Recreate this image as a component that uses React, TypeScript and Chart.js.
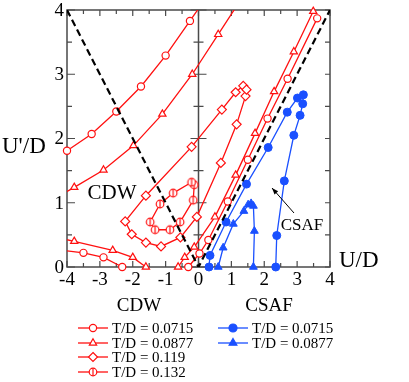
import React, { useEffect, useRef } from 'react';
import { Chart, registerables } from 'chart.js';

Chart.register(...registerables);

// ---------- data ----------
const xTickValues = [-4, -3, -2, -1, 0, 1, 2, 3, 4];
const yTickValues = [0, 1, 2, 3, 4];

const boundaryX = [-4, 0, 4];
const boundaryY = [4, 0, 4];

// CDW, T/D = 0.0715 (circles)
const cdw0715UpperX = [-4.0, -3.25, -2.5, -1.75, -1.0, -0.26, 0.3];
const cdw0715UpperY = [1.81, 2.07, 2.42, 2.81, 3.29, 3.83, 4.24];
const cdw0715LowerX = [-4.5, -3.5, -2.89, -2.32];
const cdw0715LowerY = [0.28, 0.22, 0.15, 0.0];
const cdw0715RightX = [-0.31, 0.03, 0.3, 0.89, 1.5, 2.1, 2.71, 3.61];
const cdw0715RightY = [0.0, 0.21, 0.42, 1.02, 1.67, 2.31, 2.93, 3.87];

// CDW, T/D = 0.0877 (triangles)
const cdw0877UpperX = [-4.5, -3.78, -2.89, -1.98, -1.1, -0.19, 0.6, 1.5];
const cdw0877UpperY = [1.03, 1.24, 1.51, 1.89, 2.38, 3.0, 3.62, 4.33];
const cdw0877LowerX = [-4.5, -3.78, -2.61, -2.0, -1.6];
const cdw0877LowerY = [0.48, 0.4, 0.26, 0.15, 0.0];
const cdw0877RightX = [-0.62, -0.42, -0.13, 0.5, 1.13, 1.72, 2.3, 2.9, 3.49];
const cdw0877RightY = [0.0, 0.15, 0.31, 0.78, 1.43, 2.08, 2.73, 3.35, 3.98];

// CDW, T/D = 0.119 (diamonds)
const cdw119X = [1.36, 1.13, 0.71, -0.21, -1.6, -2.23, -2.03, -1.6, -1.14, -0.55, -0.05, 0.68, 1.16, 1.43, 1.46];
const cdw119Y = [2.82, 2.72, 2.45, 1.87, 1.11, 0.71, 0.51, 0.38, 0.32, 0.46, 0.78, 1.62, 2.22, 2.66, 2.76];

// CDW, T/D = 0.132 (half circles)
const cdw132X = [-0.13, -0.16, -0.56, -0.87, -1.32, -1.47, -1.17, -0.77, -0.21];
const cdw132Y = [1.28, 1.04, 0.7, 0.58, 0.58, 0.7, 0.98, 1.15, 1.32];

// CSAF, T/D = 0.0715 (filled circles)
const csaf0715X = [0.32, 0.35, 0.84, 1.46, 2.12, 2.7, 3.01, 3.19, 3.17, 3.09, 2.9, 2.61, 2.38, 2.35];
const csaf0715Y = [0.0, 0.18, 0.7, 1.29, 1.86, 2.41, 2.63, 2.68, 2.54, 2.36, 2.05, 1.34, 0.49, 0.0];

// CSAF, T/D = 0.0877 (filled triangles)
const csaf0877X = [0.6, 0.75, 1.06, 1.38, 1.51, 1.6, 1.67, 1.7, 1.67];
const csaf0877Y = [0.0, 0.3, 0.67, 0.87, 0.97, 0.99, 0.95, 0.56, 0.0];

const cdwLegend = ['T/D = 0.0715', 'T/D = 0.0877', 'T/D = 0.119', 'T/D = 0.132'];
const csafLegend = ['T/D = 0.0715', 'T/D = 0.0877'];

// ---------- style ----------
const RED = '#ff1010';
const BLUE = '#1a50ff';
const FRAME = '#4a4a4a';
const SERIF = '"Liberation Serif", "DejaVu Serif", serif';
const LW = 1.3;

const zip = (xs: number[], ys: number[]) => xs.map((x, i) => ({ x, y: ys[i] }));

function makeHalfCircle(color: string, r: number) {
  const size = Math.ceil(r * 2 + 4);
  const c = document.createElement('canvas');
  c.width = size;
  c.height = size;
  const g = c.getContext('2d')!;
  const cx = size / 2, cy = size / 2;
  g.beginPath();
  g.arc(cx, cy, r, 0, Math.PI * 2);
  g.fillStyle = '#fff';
  g.fill();
  g.lineWidth = 1.2;
  g.strokeStyle = color;
  g.stroke();
  g.beginPath();
  g.moveTo(cx, cy - r);
  g.lineTo(cx, cy + r);
  g.stroke();
  return c;
}

function drawMarker(ctx: CanvasRenderingContext2D, style: string, x: number, y: number, r: number, fill: string, stroke: string) {
  ctx.save();
  ctx.beginPath();
  if (style === 'circle' || style === 'half') {
    ctx.arc(x, y, r, 0, Math.PI * 2);
  } else if (style === 'triangle') {
    for (let i = 0; i < 3; i++) {
      const a = -Math.PI / 2 + (i * 2 * Math.PI) / 3;
      const px = x + Math.cos(a) * r, py = y + Math.sin(a) * r;
      if (i === 0) ctx.moveTo(px, py); else ctx.lineTo(px, py);
    }
    ctx.closePath();
  } else if (style === 'rectRot') {
    ctx.moveTo(x, y - r);
    ctx.lineTo(x + r, y);
    ctx.lineTo(x, y + r);
    ctx.lineTo(x - r, y);
    ctx.closePath();
  }
  ctx.fillStyle = fill;
  ctx.fill();
  ctx.lineWidth = 1.2;
  ctx.strokeStyle = stroke;
  ctx.stroke();
  if (style === 'half') {
    ctx.beginPath();
    ctx.moveTo(x, y - r);
    ctx.lineTo(x, y + r);
    ctx.stroke();
  }
  ctx.restore();
}

const decorPlugin = {
  id: 'decor',
  beforeDatasetsDraw(chart: any) {
    const { ctx, chartArea: a, scales } = chart;
    const xs = scales.x, ys = scales.y;
    ctx.save();
    ctx.strokeStyle = FRAME;
    ctx.lineWidth = 1.5;
    ctx.strokeRect(a.left, a.top, a.right - a.left, a.bottom - a.top);
    const x0 = xs.getPixelForValue(0);
    ctx.beginPath();
    ctx.moveTo(x0, a.top);
    ctx.lineTo(x0, a.bottom);
    ctx.stroke();
    ctx.lineWidth = 1.2;
    // x ticks (top & bottom)
    for (let v = -4; v <= 4.001; v += 0.5) {
      const px = xs.getPixelForValue(v);
      const len = Number.isInteger(v) ? 6 : 4;
      ctx.beginPath();
      ctx.moveTo(px, a.bottom);
      ctx.lineTo(px, a.bottom - len);
      ctx.moveTo(px, a.top);
      ctx.lineTo(px, a.top + len);
      ctx.stroke();
    }
    // y ticks (left, right, middle)
    for (let v = 0; v <= 4.001; v += 0.5) {
      const py = ys.getPixelForValue(v);
      const len = Number.isInteger(v) ? 8 : 5;
      ctx.beginPath();
      ctx.moveTo(a.left, py);
      ctx.lineTo(a.left + len, py);
      ctx.moveTo(a.right, py);
      ctx.lineTo(a.right - 5, py);
      ctx.moveTo(x0 - len, py);
      ctx.lineTo(x0 + len, py);
      ctx.stroke();
    }
    ctx.restore();
  },
  afterDraw(chart: any) {
    const { ctx, chartArea: a, scales } = chart;
    const xs = scales.x, ys = scales.y;
    ctx.save();
    ctx.fillStyle = '#000';
    ctx.textBaseline = 'middle';
    // tick labels
    ctx.font = `19px ${SERIF}`;
    ctx.textAlign = 'center';
    xTickValues.forEach((v) => {
      ctx.fillText(String(v), xs.getPixelForValue(v), a.bottom + 13);
    });
    ctx.textAlign = 'right';
    yTickValues.forEach((v) => {
      ctx.fillText(String(v), a.left - 3, ys.getPixelForValue(v) + 1);
    });
    // axis titles
    ctx.font = `23px ${SERIF}`;
    ctx.textAlign = 'left';
    ctx.fillText("U'/D", 2, 147);
    ctx.fillText('U/D', 339, 261);
    // region labels
    ctx.font = `21px ${SERIF}`;
    ctx.textAlign = 'center';
    ctx.fillText('CDW', 112, 193);
    ctx.font = `17px ${SERIF}`;
    ctx.fillText('CSAF', 302, 226);
    // arrow
    const tx = 294, ty = 213, hx = 272, hy = 188;
    ctx.strokeStyle = '#000';
    ctx.lineWidth = 1;
    ctx.beginPath();
    ctx.moveTo(tx, ty);
    ctx.lineTo(hx, hy);
    ctx.stroke();
    const ang = Math.atan2(hy - ty, hx - tx);
    ctx.beginPath();
    ctx.moveTo(hx, hy);
    ctx.lineTo(hx - 7 * Math.cos(ang - 0.35), hy - 7 * Math.sin(ang - 0.35));
    ctx.lineTo(hx - 7 * Math.cos(ang + 0.35), hy - 7 * Math.sin(ang + 0.35));
    ctx.closePath();
    ctx.fillStyle = '#000';
    ctx.fill();

    // legend
    ctx.font = `19px ${SERIF}`;
    ctx.fillText('CDW', 139, 306);
    ctx.fillText('CSAF', 269, 306);
    ctx.font = `15px ${SERIF}`;
    ctx.textAlign = 'left';
    const rows = [328, 343, 357, 372];
    const cdwStyles = ['circle', 'triangle', 'rectRot', 'half'];
    const cdwR = [3.6, 4.2, 4.5, 3.8];
    cdwLegend.forEach((t, i) => {
      const y = rows[i];
      ctx.strokeStyle = RED;
      ctx.lineWidth = LW;
      ctx.beginPath();
      ctx.moveTo(78, y);
      ctx.lineTo(108, y);
      ctx.stroke();
      drawMarker(ctx, cdwStyles[i], 93, y, cdwR[i], '#fff', RED);
      ctx.fillStyle = '#000';
      ctx.fillText(t, 112, y + 1);
    });
    const csafStyles = ['circle', 'triangle'];
    csafLegend.forEach((t, i) => {
      const y = rows[i];
      ctx.strokeStyle = BLUE;
      ctx.lineWidth = LW;
      ctx.beginPath();
      ctx.moveTo(218, y);
      ctx.lineTo(248, y);
      ctx.stroke();
      drawMarker(ctx, csafStyles[i], 233, y, i === 0 ? 4 : 4.5, BLUE, BLUE);
      ctx.fillStyle = '#000';
      ctx.fillText(t, 252, y + 1);
    });
    ctx.restore();
  },
};

export default function App() {
  const ref = useRef<HTMLCanvasElement>(null);
  useEffect(() => {
    const half = makeHalfCircle(RED, 3.8);
    const inRange = (c: any, r: number) => {
      const v = c.raw;
      if (!v) return r;
      return v.x < -4.01 || v.x > 4.01 || v.y > 4.01 ? 0 : r;
    };
    const redSeries = (xs: number[], ys: number[], style: any, r: number, clip: any) => ({
      data: zip(xs, ys),
      borderColor: RED,
      borderWidth: LW,
      pointStyle: style,
      pointRadius: (c: any) => inRange(c, r),
      pointBackgroundColor: '#fff',
      pointBorderColor: RED,
      pointBorderWidth: 1.2,
      showLine: true,
      tension: 0,
      clip,
    });
    const blueSeries = (xs: number[], ys: number[], style: any, r: number) => ({
      data: zip(xs, ys),
      borderColor: BLUE,
      borderWidth: LW,
      pointStyle: style,
      pointRadius: r,
      pointBackgroundColor: BLUE,
      pointBorderColor: BLUE,
      pointBorderWidth: 1,
      showLine: true,
      tension: 0,
      clip: { left: 6, top: 6, right: 6, bottom: 6 },
    });
    const open = { left: 6, top: 6, right: 6, bottom: 6 };
    const chart = new Chart(ref.current!, {
      type: 'scatter',
      data: {
        datasets: [
          {
            data: zip(boundaryX, boundaryY),
            borderColor: '#000',
            borderWidth: 2.2,
            borderDash: [7, 4],
            pointRadius: 0,
            showLine: true,
            clip: 0,
          } as any,
          redSeries(cdw0715UpperX, cdw0715UpperY, 'circle', 3.6, { left: 6, top: 0, right: 6, bottom: 6 }),
          redSeries(cdw0715LowerX, cdw0715LowerY, 'circle', 3.6, { left: 0, top: 6, right: 6, bottom: 6 }),
          redSeries(cdw0715RightX, cdw0715RightY, 'circle', 3.6, open),
          redSeries(cdw0877UpperX, cdw0877UpperY, 'triangle', 4.2, { left: 0, top: 0, right: 6, bottom: 6 }),
          redSeries(cdw0877LowerX, cdw0877LowerY, 'triangle', 4.2, { left: 0, top: 6, right: 6, bottom: 6 }),
          redSeries(cdw0877RightX, cdw0877RightY, 'triangle', 4.2, open),
          redSeries(cdw119X, cdw119Y, 'rectRot', 4.5, open),
          redSeries(cdw132X, cdw132Y, half, 3.8, open),
          blueSeries(csaf0715X, csaf0715Y, 'circle', 4),
          blueSeries(csaf0877X, csaf0877Y, 'triangle', 4.5),
        ],
      },
      options: {
        responsive: false,
        animation: false,
        events: [],
        layout: { padding: { left: 67, top: 10, right: 79, bottom: 115 } },
        plugins: { legend: { display: false }, tooltip: { enabled: false } },
        scales: {
          x: { type: 'linear', min: -4, max: 4, display: false },
          y: { type: 'linear', min: 0, max: 4, display: false },
        },
      },
      plugins: [decorPlugin],
    } as any);
    return () => chart.destroy();
  }, []);
  return (
    <div style={{ position: 'fixed', left: 0, top: 0, width: 409, height: 382, background: '#fff' }}>
      <canvas ref={ref} width={409} height={382} style={{ display: 'block' }} />
    </div>
  );
}
